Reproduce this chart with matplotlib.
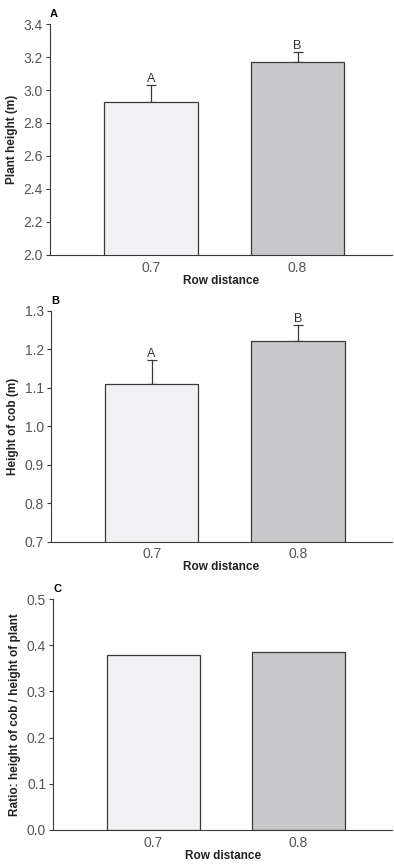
import numpy as np
import matplotlib
matplotlib.use("Agg")
import matplotlib.pyplot as plt

plt.rcParams['font.family'] = ['Liberation Sans Narrow', 'Liberation Sans', 'DejaVu Sans']

#Data
rows = ["0.7", "0.8"]
plant_height = [2.93, 3.17]
plant_err = [0.10, 0.06]
cob_height = [1.109, 1.222]
cob_err = [0.062, 0.040]
ratio = [0.378, 0.385]
letters = ["A", "B"]
colors = ["#f2f2f4", "#c8c8ca"]

#Panel settings
panels = [
    ("A", plant_height, plant_err, "Plant height (m)", (2.0, 3.4), 0.2, [0.127, 0.7049, 0.868, 0.2673]),
    ("B", cob_height, cob_err, "Height of cob (m)", (0.7, 1.3), 0.1, [0.129, 0.373, 0.866, 0.2674]),
    ("C", ratio, None, "Ratio: height of cob / height of plant", (0.0, 0.5), 0.1, [0.135, 0.0394, 0.860, 0.2673]),
]

fig = plt.figure(figsize=(3.94, 8.64), dpi=100)
x = np.arange(len(rows))

for name, vals, err, ylabel, ylim, step, pos in panels:
    ax = fig.add_axes(pos)
    ax.bar(x, vals, width=0.64, color=colors, edgecolor="#3a3a3a", linewidth=0.9, zorder=2)
    if err is not None:
        ax.errorbar(x, vals, yerr=[[0, 0], err], fmt="none", ecolor="#3a3a3a",
                    elinewidth=0.9, capsize=3.5, capthick=0.9, zorder=1)
        for xi, v, e, l in zip(x, vals, err, letters):
            ax.text(xi, v + e, l, ha="center", va="bottom", fontsize=9, color="#333333")
    ax.set_xlim(-0.69, 1.645)
    ax.set_ylim(*ylim)
    ticks = np.arange(ylim[0], ylim[1] + step / 2, step)
    ax.set_yticks(ticks)
    ax.set_yticklabels(["{:.1f}".format(t) for t in ticks])
    ax.set_xticks(x)
    ax.set_xticklabels(rows)
    for s in ["top", "right"]:
        ax.spines[s].set_visible(False)
    for s in ["left", "bottom"]:
        ax.spines[s].set_color("#3a3a3a")
        ax.spines[s].set_linewidth(0.8)
    ax.tick_params(axis="y", length=3, width=0.8, colors="#3a3a3a", labelsize=10, labelcolor="#555555", pad=2)
    ax.tick_params(axis="x", length=0, labelsize=10, labelcolor="#555555", pad=4)
    ax.set_xlabel("Row distance", fontsize=8.5, fontweight="bold", color="#222222", labelpad=0)
    ax.set_ylabel(ylabel, fontsize=8.5, fontweight="bold", color="#222222", labelpad=4)
    ax.text(0.0, 1.02, name, transform=ax.transAxes, fontsize=8, fontweight="bold", ha="left", va="bottom")

fig.savefig("out.png", dpi=100)
